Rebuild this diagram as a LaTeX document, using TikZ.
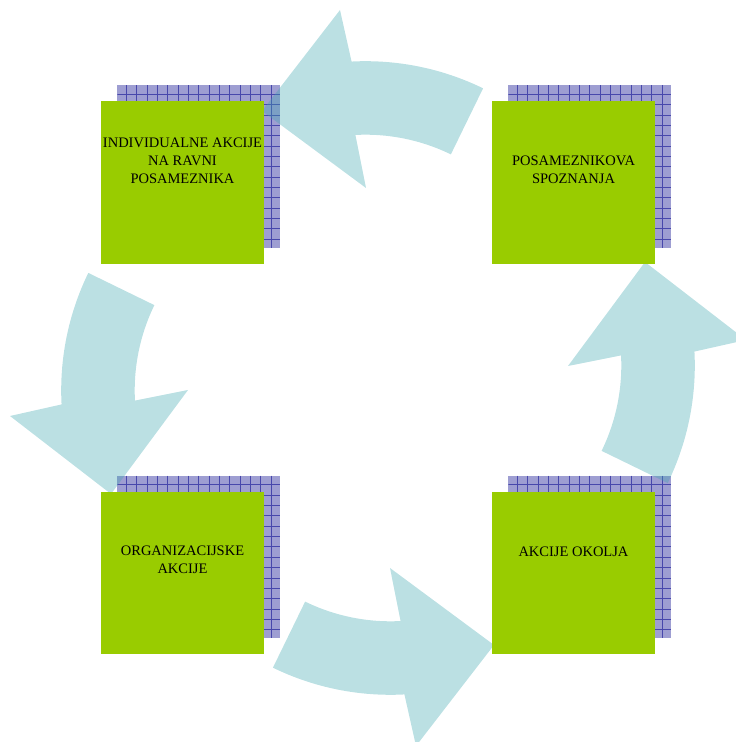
\documentclass[tikz,border=0pt]{standalone}
\usepackage{fontspec}
\setmainfont{Liberation Serif}
\definecolor{leaf}{RGB}{153,204,0}
\definecolor{lav}{RGB}{158,158,210}
\definecolor{lavline}{RGB}{72,72,172}
\definecolor{tealtint}{RGB}{61,166,175}
\begin{document}
\begin{tikzpicture}[x=1pt,y=1pt,
  card/.style={fill=leaf, draw=none, minimum size=162.5pt, inner sep=0pt},
  backsq/.style={fill=lav, draw=none, minimum size=162.5pt, inner sep=0pt,
    path picture={
      \foreach \k in {0,...,14}{
        \draw[lavline, line width=0.75pt]
          ([xshift={9+\k*10.35}]path picture bounding box.north west) --
          ([xshift={9+\k*10.35}]path picture bounding box.south west);
        \draw[lavline, line width=0.75pt]
          ([yshift={-9-\k*10.35}]path picture bounding box.north west) --
          ([yshift={-9-\k*10.35}]path picture bounding box.north east);
      }}},
  lbl/.style={font=\fontsize{14.5}{18}\selectfont, inner sep=0pt, anchor=base},
  arrowfill/.style={fill=tealtint, fill opacity=0.35},
  % one curved block arrow of the cycle, drawn at the top and pointing left
  cyclearrow/.pic={
    \fill[arrowfill] (72.86,223.61) -- (105.08,289.68)
      arc[start angle=64, end angle=93, radius=268]
      -- (-38,368) -- (-116,267) -- (-12,190) -- (-22.58,243.03)
      arc[start angle=93, end angle=64, radius=194.5] -- cycle;
  }
]
\useasboundingbox (0,0) rectangle (736,742);

% hatched back squares
\node[backsq] (s1) at (198.5,575.5) {};
\node[backsq] (s2) at (589.5,575.5) {};
\node[backsq] (s3) at (198.5,185) {};
\node[backsq] (s4) at (589.5,185) {};

% the four arrows of the cycle
\pic at (378,364) {cyclearrow};
\pic[rotate=90] at (378,364) {cyclearrow};
\pic[rotate=180] at (378,364) {cyclearrow};
\pic[rotate=270] at (378,364) {cyclearrow};

% green squares
\node[card] (b1) at (182.5,559.5) {};
\node[card] (b2) at (573.5,559.5) {};
\node[card] (b3) at (182.5,169) {};
\node[card] (b4) at (573.5,169) {};

% labels
\node[lbl] (t1) at (182.5,594) {\begin{tabular}[t]{@{}c@{}}INDIVIDUALNE AKCIJE\\NA RAVNI\\POSAMEZNIKA\end{tabular}};
\node[lbl] (t2) at (573.5,576) {\begin{tabular}[t]{@{}c@{}}POSAMEZNIKOVA\\SPOZNANJA\end{tabular}};
\node[lbl] (t3) at (182.5,186) {\begin{tabular}[t]{@{}c@{}}ORGANIZACIJSKE\\AKCIJE\end{tabular}};
\node[lbl] (t4) at (573.5,185) {AKCIJE OKOLJA};
\end{tikzpicture}
\end{document}
